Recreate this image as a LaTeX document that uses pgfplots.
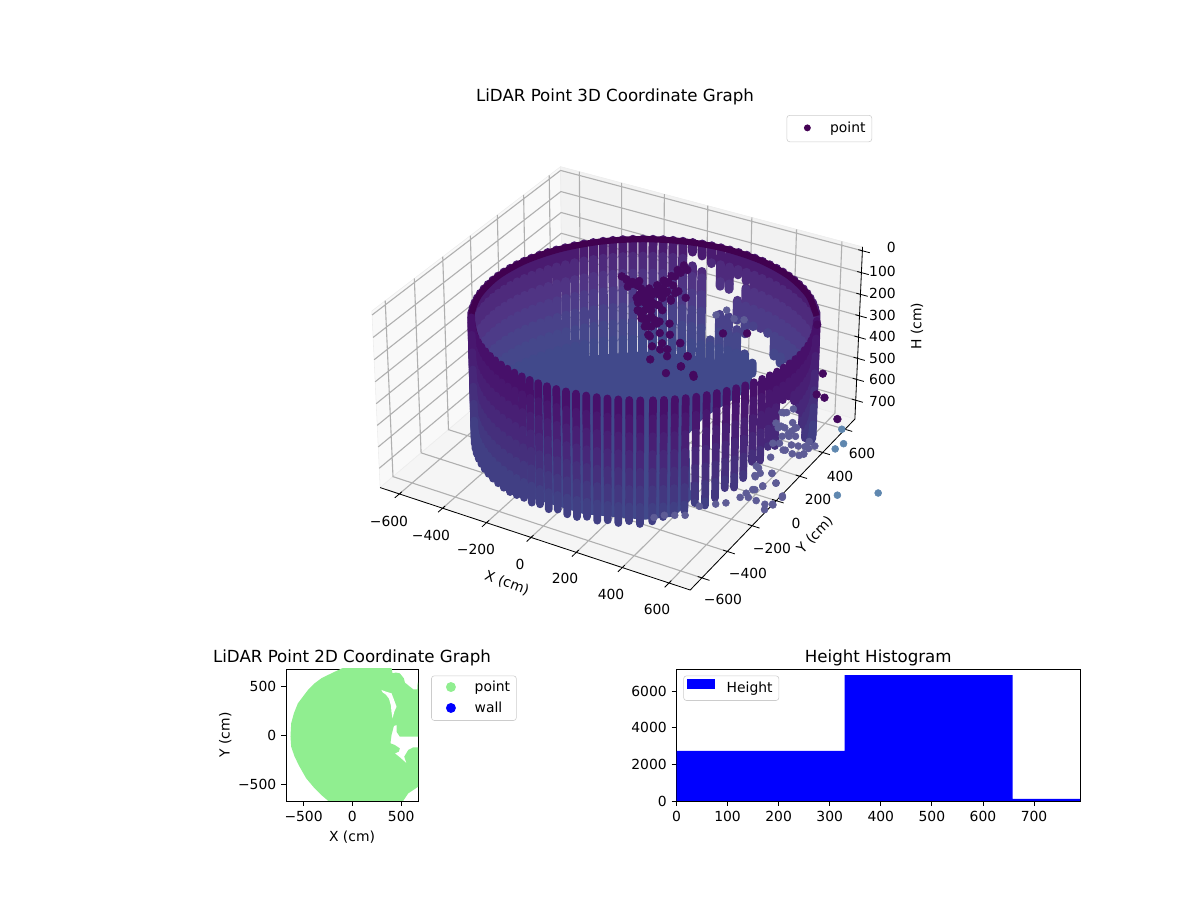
\documentclass[border=0pt]{standalone}
\usepackage{fontspec}
\setmainfont{DejaVu Sans}
\usepackage{pgfplots}
\usepackage{pgfplotstable}
\pgfplotsset{compat=1.18}
\newcommand\tf{\fontsize{10bp}{12bp}\selectfont}
\newcommand\ttf{\fontsize{12bp}{14bp}\selectfont}
\definecolor{vir}{HTML}{440154}
\definecolor{dark}{HTML}{44095F}
\definecolor{gridc}{HTML}{B0B0B0}
\definecolor{outl}{HTML}{5F87AF}
\definecolor{lgreen}{HTML}{90EE90}
\definecolor{f1}{HTML}{47106A}\definecolor{f2}{HTML}{48176F}\definecolor{f3}{HTML}{481F74}
\definecolor{f4}{HTML}{472779}\definecolor{f5}{HTML}{452F7C}\definecolor{f6}{HTML}{433780}\definecolor{f7}{HTML}{413F84}
\definecolor{b1}{HTML}{4A1B70}\definecolor{b2}{HTML}{4E2A7C}\definecolor{b3}{HTML}{503484}
\definecolor{b4}{HTML}{4D3B88}\definecolor{b5}{HTML}{49428A}\definecolor{b6}{HTML}{45478B}\definecolor{b7}{HTML}{41498B}
\pgfplotsset{table/pj/.style={x expr={px(\thisrow{X},\thisrow{Y},\thisrow{H})},y expr={py(\thisrow{X},\thisrow{Y},\thisrow{H})}},
 table/pq/.style={x expr={qx(\thisrow{U},\thisrow{V},\thisrow{H})},y expr={qy(\thisrow{U},\thisrow{V},\thisrow{H})}}}
% wall columns: A = angle around the wall (deg), T, B = top and bottom height (cm)
\pgfplotstableread{
A T B
177.5 170 720
174 170 720
170.5 170 720
167 170 720
163.5 170 720
160 170 720
156.5 170 720
153 170 720
149.5 170 720
146 170 720
142.5 170 720
139 170 720
135.5 170 720
132 170 720
128.5 170 720
125 170 720
121.5 170 720
118 170 720
114.5 170 720
111 170 720
107.5 170 720
104 170 720
100.5 170 720
97 170 720
93.5 170 720
90 170 720
86.5 170 720
83 170 720
79.5 170 720
76 170 720
72.5 170 215
72.5 280 720
69 170 226
69 300 720
65.5 170 254
65.5 620 720
62 170 352
62 487 720
58.5 170 356
58.5 487 720
55 170 275
55 396 490
55 536 720
51.5 170 291
51.5 324 543
51.5 640 720
48 170 494
48 670 720
44.5 170 487
41 170 494
37.5 170 585
34 170 600
30.5 170 562
27 170 571
23.5 170 720
20 170 720
16.5 170 720
13 170 720
9.5 170 720
6 170 720
2.5 170 720
}\backtab
\pgfplotstableread{
A T B
-3.5 170 703
-7 170 694
-10.5 170 680
-14 170 660
-17.5 170 627
-21 170 597
-24.5 170 512
-28 170 423
-31.5 170 361
-35 170 320
-38.5 170 317
-42 170 508
-45.5 170 494
-49 170 540
-52.5 170 530
-56 170 590
-59.5 170 620
-63 170 610
-66.5 170 645
-70 170 670
-73.5 170 650
-77 170 680
-80.5 170 690
-84 170 700
181 170 735
184.5 170 735
188 170 735
191.5 170 735
195 170 735
198.5 170 735
202 170 735
205.5 170 735
209 170 735
212.5 170 735
216 170 735
219.5 170 735
223 170 730
226.5 170 725
230 170 730
233.5 170 722
237 170 730
240.5 170 718
244 170 728
247.5 170 730
251 170 720
254.5 170 730
258 170 722
261.5 170 730
265 170 718
268.5 170 730
272.5 170 718
}\fronttab
% dark object inside the wall, U V along / across the view (cm)
\pgfplotstableread{
U V H
-50 400 250
0 330 250
45 330 250
-5 280 250
15 210 250
45 230 250
-10 150 250
30 130 250
10 90 250
75 280 250
60 220 250
120 380 250
90 395 250
-68 433 250
-42 395 250
-9 357 250
23 357 250
56 383 250
82 421 250
114 458 250
140 509 250
166 547 250
10 307 250
36 307 250
-16 307 250
62 307 250
95 332 250
127 319 250
108 269 250
-22 243 250
4 243 250
30 256 250
-22 180 250
4 180 250
30 180 250
-9 117 250
17 117 250
43 104 250
62 92 250
4 54 250
17 -10 250
101 -10 250
62 3 250
140 -73 250
166 -174 250
62 -123 250
88 -174 250
140 -250 250
82 -300 250
186 -313 250
30 54 250
-86 456 250
-66 426 250
-43 410 250
-16 418 250
-62 372 250
-23 380 250
-4 334 250
23 304 250
51 334 250
74 357 250
101 410 250
129 456 250
152 486 250
179 509 250
12 258 250
-23 182 250
-4 129 250
35 228 250
90 319 250
109 258 250
140 334 250
168 281 250
16 53 250
23 -23 250
31 -99 250
23 -198 250
70 -76 250
90 -122 250
140 -76 250
168 -175 250
140 -251 250
187 -327 250
101 76 250
51 76 250
74 182 250
-27 281 250
308 0 250
402 0 250
679 68 250
679 -304 250
714 -631 250
647 -456 250
675 -479 250
}\objtab
\pgfplotstableread{
U V H
285 144 250
328 182 250
355 114 250
394 106 250
550 49 650
569 49 650
530 -65 650
556 -65 650
589 -27 650
582 -90 650
602 -65 650
543 -128 650
569 -128 650
595 -128 650
530 -179 650
550 -229 650
576 -191 650
602 -199 650
628 -204 650
647 -166 650
667 -199 650
576 -255 650
602 -267 650
621 -255 650
641 -217 650
504 -179 650
491 -280 650
491 -394 650
504 -462 650
433 -343 650
446 -394 650
426 -419 650
452 -482 650
413 -508 650
387 -533 650
524 -553 650
485 -614 650
455 -609 650
423 -584 650
542 -53 650
569 -106 650
597 -68 650
620 -258 650
542 -228 650
523 -30 650
558 46 650
597 76 650
441 -357 650
425 -410 650
452 -486 650
421 -509 650
452 -646 650
484 -608 650
523 -562 650
503 -464 650
491 -395 650
394 -562 650
363 -562 650
308 -600 650
269 -608 650
207 -623 650
152 -684 650
113 -684 650
74 -684 650
35 -699 650
}\midtab
\newcommand\band[5]{%
\addplot[forget plot,draw=#4,line width=#5,line cap=round,
  quiver={u={cx(\thisrow{A},min(\thisrow{B},#3))-cx(\thisrow{A},max(\thisrow{T},#2))},
          v={cy(\thisrow{A},min(\thisrow{B},#3))-cy(\thisrow{A},max(\thisrow{T},#2))}}]
 table[x expr={(\thisrow{B}<#2||\thisrow{T}>#3)?nan:cx(\thisrow{A},max(\thisrow{T},#2))},
       y expr={(\thisrow{B}<#2||\thisrow{T}>#3)?nan:cy(\thisrow{A},max(\thisrow{T},#2))}]{#1};}
\begin{document}
\begin{tikzpicture}
\path (0,0) rectangle (12in,9in);
\begin{axis}[at={(0,0)},anchor=south west,width=12in,height=9in,scale only axis,hide axis,clip=false,
 xmin=0,xmax=1200,ymin=0,ymax=900,y dir=reverse,font=\tf,
 empty line=jump,unbounded coords=jump,
 declare function={
  xv(\a,\b)=0.000862*(0.866*\a+0.5*\b);
  yv(\a,\b,\c)=0.000862*(-0.25*\a+0.433*\b)+0.866*(386.5-\c)*0.000816;
  zv(\a,\b,\c)=0.000862*(0.433*\a-0.75*\b)+0.5*(386.5-\c)*0.000816;
  px(\a,\b,\c)=621.9+2969*xv(\a,\b)/(10-zv(\a,\b,\c));
  py(\a,\b,\c)=366.9-3050*yv(\a,\b,\c)/(10-zv(\a,\b,\c));
  qx(\a,\b,\c)=px(59+0.866*\a-0.5*\b,69+0.5*\a+0.866*\b,\c);
  qy(\a,\b,\c)=py(59+0.866*\a-0.5*\b,69+0.5*\a+0.866*\b,\c);
  cx(\a,\c)=qx(670*cos(\a),626*sin(\a),\c);
  cy(\a,\c)=qy(670*cos(\a),626*sin(\a),\c);
 },
 legend style={at={(0.7267,0.8722)},anchor=north east,draw=black!20,rounded corners=2pt,font=\tf,inner xsep=2.5pt,inner ysep=3pt},
 legend cell align=left]
\addlegendimage{legend image code/.code={\draw[draw=none] (0in,0in) -- (0.37in,0in); \fill[vir,draw=none] (0.17in,0.05em) circle (2.5pt);}}
\addlegendentry{point}
% panes
\addplot[forget plot,fill=black!2.5,draw=black!7] table[pj]{
X Y H
-690 -690 791
-690 690 791
-690 690 -18
-690 -690 -18
}--cycle;
\addplot[forget plot,fill=black!5,draw=black!7] table[pj]{
X Y H
-690 690 791
690 690 791
690 690 -18
-690 690 -18
}--cycle;
\addplot[forget plot,fill=black!3.75,draw=black!7] table[pj]{
X Y H
-690 -690 791
690 -690 791
690 690 791
-690 690 791
}--cycle;
% grid
\addplot[forget plot,gridc,line width=0.8pt] table[pj]{
X Y H
-600 -690 791
-600 690 791
-600 690 -18

-400 -690 791
-400 690 791
-400 690 -18

-200 -690 791
-200 690 791
-200 690 -18

0 -690 791
0 690 791
0 690 -18

200 -690 791
200 690 791
200 690 -18

400 -690 791
400 690 791
400 690 -18

600 -690 791
600 690 791
600 690 -18

690 -600 791
-690 -600 791
-690 -600 -18

690 -400 791
-690 -400 791
-690 -400 -18

690 -200 791
-690 -200 791
-690 -200 -18

690 0 791
-690 0 791
-690 0 -18

690 200 791
-690 200 791
-690 200 -18

690 400 791
-690 400 791
-690 400 -18

690 600 791
-690 600 791
-690 600 -18

-690 -690 0
-690 690 0
690 690 0

-690 -690 100
-690 690 100
690 690 100

-690 -690 200
-690 690 200
690 690 200

-690 -690 300
-690 690 300
690 690 300

-690 -690 400
-690 690 400
690 690 400

-690 -690 500
-690 690 500
690 690 500

-690 -690 600
-690 690 600
690 690 600

-690 -690 700
-690 690 700
690 690 700
};
% axis lines and ticks
\addplot[forget plot,black,line width=0.6pt] table[pj]{
X Y H
-690 -690 791
690 -690 791
690 690 791
690 690 -18

-600 -672 791
-600 -722 791

-400 -672 791
-400 -722 791

-200 -672 791
-200 -722 791

0 -672 791
0 -722 791

200 -672 791
200 -722 791

400 -672 791
400 -722 791

600 -672 791
600 -722 791

672 -600 791
722 -600 791

672 -400 791
722 -400 791

672 -200 791
722 -200 791

672 0 791
722 0 791

672 200 791
722 200 791

672 400 791
722 400 791

672 600 791
722 600 791

672 690 0
722 690 0

672 690 100
722 690 100

672 690 200
722 690 200

672 690 300
722 690 300

672 690 400
722 690 400

672 690 500
722 690 500

672 690 600
722 690 600

672 690 700
722 690 700
};
% back of the wall
\band{\backtab}{170}{250}{b1}{6.5pt}
\band{\backtab}{250}{330}{b2}{6.5pt}
\band{\backtab}{330}{410}{b3}{6.5pt}
\band{\backtab}{410}{490}{b4}{6.5pt}
\band{\backtab}{490}{570}{b5}{6.5pt}
\band{\backtab}{570}{650}{b6}{6.5pt}
\band{\backtab}{650}{760}{b7}{6.5pt}
% floor
\addplot[forget plot,fill=b7,draw=none] table[x expr={qx(670*\thisrow{r}*cos(\thisrow{A}),626*\thisrow{r}*sin(\thisrow{A}),710)},y expr={qy(670*\thisrow{r}*cos(\thisrow{A}),626*\thisrow{r}*sin(\thisrow{A}),710)}]{
A r
70 1
90 1
110 1
130 1
150 1
170 1
190 1
210 1
230 1
250 1
270 1
280 0.98
289 0.82
355 0.27
385 0.4
399 0.86
410 1.03
}--cycle;
% rim
\addplot[forget plot,smooth,draw=vir!95!black,line width=4.5pt] table[x expr={cx(\thisrow{A},170)},y expr={cy(\thisrow{A},170)}]{
A
0
15
30
45
60
75
90
105
120
135
150
165
180
195
};
% points inside
\addplot[forget plot,only marks,mark=*,mark size=2.8pt,color=dark] table[pq]{\objtab};
% front of the wall
\band{\fronttab}{170}{250}{f1}{5.6pt}
\band{\fronttab}{250}{330}{f2}{5.6pt}
\band{\fronttab}{330}{410}{f3}{5.6pt}
\band{\fronttab}{410}{490}{f4}{5.6pt}
\band{\fronttab}{490}{570}{f5}{5.6pt}
\band{\fronttab}{570}{650}{f6}{5.6pt}
\band{\fronttab}{650}{760}{f7}{5.6pt}
\addplot[forget plot,only marks,mark=*,mark size=2.5pt,color=f7!85!white] table[pq]{\midtab};
% outlying points
\addplot[forget plot,only marks,mark=*,mark size=2.5pt,color=outl] table[pq]{
U V H
733 -547 650
889 -532 650
780 -76 650
780 -182 650
745 -220 650
};
% texts
\node[font=\ttf] at (axis cs:615,97) {LiDAR Point 3D Coordinate Graph};
\tikzset{every node/.append style={inner sep=0pt}}
\node at (axis cs:389,521) {−600};
\node at (axis cs:431,535) {−400};
\node at (axis cs:476,549) {−200};
\node at (axis cs:520,564) {0};
\node at (axis cs:565,578) {200};
\node at (axis cs:611,594) {400};
\node at (axis cs:657,609) {600};
\node at (axis cs:723,599) {−600};
\node at (axis cs:748,573) {−400};
\node at (axis cs:772,548) {−200};
\node at (axis cs:796,523) {0};
\node at (axis cs:818,499) {200};
\node at (axis cs:840,476) {400};
\node at (axis cs:862,453) {600};
\node[anchor=east] at (axis cs:896,247) {0};
\node[anchor=east] at (axis cs:896,271) {100};
\node[anchor=east] at (axis cs:896,293) {200};
\node[anchor=east] at (axis cs:896,315) {300};
\node[anchor=east] at (axis cs:896,336) {400};
\node[anchor=east] at (axis cs:896,358) {500};
\node[anchor=east] at (axis cs:896,379) {600};
\node[anchor=east] at (axis cs:896,401) {700};
\node[rotate=-20] at (axis cs:507,583) {X (cm)};
\node[rotate=46] at (axis cs:815,535) {Y (cm)};
\node[rotate=90] at (axis cs:917,326) {H (cm)};
\end{axis}
% 2D map
\begin{axis}[at={(2.86in,0.99in)},anchor=south west,width=1.32in,height=1.32in,scale only axis,
 xmin=-680,xmax=672,ymin=-673,ymax=673,axis line style={line width=0.6pt},tick style={black,line width=0.6pt},
 tick align=outside,tick pos=left,major tick length=3.5bp,font=\tf,
 xtick={-500,0,500},xticklabels={−500,0,500},ytick={-500,0,500},yticklabels={−500,0,500},
 title={LiDAR Point 2D Coordinate Graph},title style={font=\ttf,yshift=-7pt},
 xlabel={X (cm)},ylabel={Y (cm)},ylabel style={yshift=-2pt},
 legend style={at={(1.1,0.95)},anchor=north west,draw=black!20,rounded corners=2pt,font=\tf,row sep=2pt,inner xsep=2.5pt},legend cell align=left]
\addlegendimage{legend image code/.code={\draw[draw=none] (0in,0in) -- (0.37in,0in); \fill[lgreen,draw=none] (0.16in,0.05em) circle (3.6pt);}}
\addlegendentry{point}
\addlegendimage{legend image code/.code={\draw[draw=none] (0in,0in) -- (0.37in,0in); \fill[blue,draw=none] (0.16in,0.05em) circle (3.6pt);}}
\addlegendentry{wall}
\addplot[forget plot,fill=lgreen,draw=none] table{
-634 -17
-627 119
-599 221
-558 323
-507 391
-455 459
-387 527
-318 578
-250 612
-164 653
-96 684
401 684
411 629
445 636
486 629
527 578
538 534
623 466
664 466
668 534
760 534
760 -17
486 -17
452 34
452 102
425 92
401 0
390 -85
435 -102
486 -136
476 -170
435 -187
486 -228
555 -289
531 -221
572 -153
623 -126
760 -126
760 -500
675 -527
572 -595
503 -697
-230 -697
-250 -670
-318 -612
-387 -544
-473 -442
-541 -323
-592 -221
-627 -119
}--cycle;
\addplot[forget plot,fill=white,draw=none] table{
298 459
350 440
401 425
420 375
452 289
430 240
411 170
400 240
395 300
375 370
345 410
310 435
}--cycle;
\end{axis}
% histogram
\begin{axis}[at={(6.765in,0.99in)},anchor=south west,width=4.035in,height=1.32in,scale only axis,
 xmin=0,xmax=790,ymin=0,ymax=7200,axis line style={line width=0.6pt},tick style={black,line width=0.6pt},
 tick align=outside,tick pos=left,major tick length=3.5bp,font=\tf,
 xtick={0,100,200,300,400,500,600,700},xticklabels={0,100,200,300,400,500,600,700},
 ytick={0,2000,4000,6000},yticklabels={0,2000,4000,6000},scaled ticks=false,
 title={Height Histogram},title style={font=\ttf,yshift=-7pt},
 legend style={at={(0.017,0.95)},anchor=north west,draw=black!20,rounded corners=2pt,font=\tf,inner xsep=2.5pt},legend cell align=left]
\addlegendimage{legend image code/.code={\fill[blue,draw=none,sharp corners] (0in,0in) rectangle (0.28in,0.1in);}}
\addlegendentry{\ \ Height}
\addplot[forget plot,ybar interval,fill=blue,draw=none] coordinates {(0,2737)(329,6870)(658,110)(987,0)};
\end{axis}
\end{tikzpicture}
\end{document}
